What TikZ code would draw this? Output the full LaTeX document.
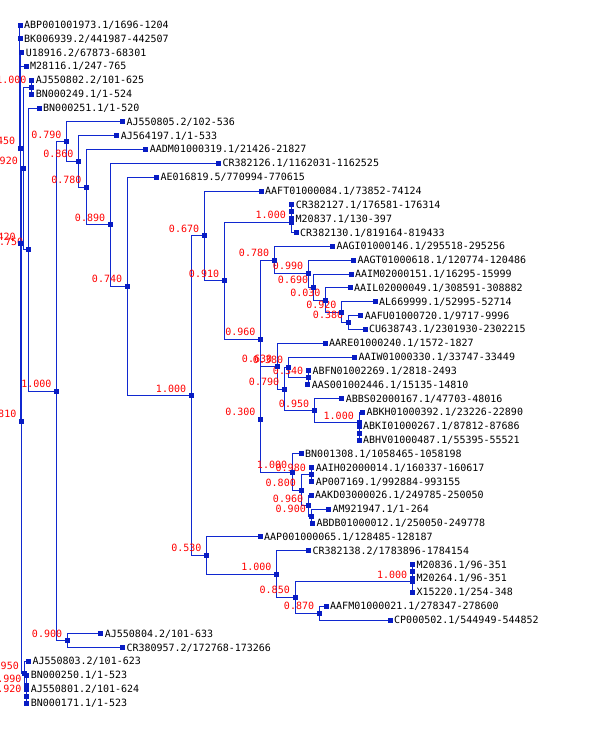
\documentclass[tikz,border=0pt]{standalone}
\usepackage{fontspec}
\setmonofont{DejaVu Sans Mono}
\usetikzlibrary{backgrounds}
\definecolor{blu}{RGB}{16,40,208}
\definecolor{mkc}{RGB}{8,28,196}
\definecolor{bsred}{RGB}{255,0,0}
\tikzset{
  mk/.style={rectangle,fill=mkc,draw=none,minimum size=5pt,inner sep=0pt},
  lbl/.style={anchor=base west,inner sep=0pt,font=\ttfamily\fontsize{10}{10}\selectfont,text=black},
  bs/.style={anchor=base east,inner sep=0pt,font=\ttfamily\fontsize{10}{10}\selectfont,text=bsred},
  br/.style={draw=blu,line width=1pt}
}
\newcommand\leafnode[4]{\node[mk] (#1) at (#2,#3) {};
  \node[lbl] (#1-txt) at ([shift={(4,3.4)}]#1.center) {#4};}
\newcommand\innode[4]{\node[mk] (#1) at (#2,#3) {};
  \node[bs] (#1-sup) at ([shift={(-5,-3.7)}]#1.center) {#4};}
\newcommand\bare[3]{\node[mk] (#1) at (#2,#3) {};}
\begin{document}
\begin{tikzpicture}[x=1pt,y=-1pt]
\useasboundingbox (0,0) rectangle (600,740);
% leaves
\leafnode{L1}{20}{25.0}{ABP001001973.1/1696-1204}
\leafnode{L2}{20}{38.8}{BK006939.2/441987-442507}
\leafnode{L3}{21.7}{52.7}{U18916.2/67873-68301}
\leafnode{L4}{26}{66.5}{M28116.1/247-765}
\leafnode{L5}{31.7}{80.3}{AJ550802.2/101-625}
\leafnode{L6}{31.7}{94.2}{BN000249.1/1-524}
\leafnode{L7}{39}{108}{BN000251.1/1-520}
\leafnode{L8}{122.3}{121.9}{AJ550805.2/102-536}
\leafnode{L9}{116.7}{135.7}{AJ564197.1/1-533}
\leafnode{L10}{145.7}{149.5}{AADM01000319.1/21426-21827}
\leafnode{L11}{218.3}{163.4}{CR382126.1/1162031-1162525}
\leafnode{L12}{156.3}{177.2}{AE016819.5/770994-770615}
\leafnode{L13}{261}{191}{AAFT01000084.1/73852-74124}
\leafnode{L14}{291.7}{204.9}{CR382127.1/176581-176314}
\leafnode{L15}{291.5}{218.7}{M20837.1/130-397}
\leafnode{L16}{296}{232.6}{CR382130.1/819164-819433}
\leafnode{L17}{332.3}{246.4}{AAGI01000146.1/295518-295256}
\leafnode{L18}{353.3}{260.2}{AAGT01000618.1/120774-120486}
\leafnode{L19}{351}{274.1}{AAIM02000151.1/16295-15999}
\leafnode{L20}{350}{287.9}{AAIL02000049.1/308591-308882}
\leafnode{L21}{375}{301.8}{AL669999.1/52995-52714}
\leafnode{L22}{360.7}{315.6}{AAFU01000720.1/9717-9996}
\leafnode{L23}{365}{329.4}{CU638743.1/2301930-2302215}
\leafnode{L24}{325}{343.3}{AARE01000240.1/1572-1827}
\leafnode{L25}{354.3}{357.1}{AAIW01000330.1/33747-33449}
\leafnode{L26}{308.3}{370.9}{ABFN01002269.1/2818-2493}
\leafnode{L27}{307.7}{384.8}{AAS001002446.1/15135-14810}
\leafnode{L28}{341.7}{398.6}{ABBS02000167.1/47703-48016}
\leafnode{L29}{362.3}{412.4}{ABKH01000392.1/23226-22890}
\leafnode{L30}{359}{426.3}{ABKI01000267.1/87812-87686}
\leafnode{L31}{359}{440.1}{ABHV01000487.1/55395-55521}
\leafnode{L32}{301}{453.9}{BN001308.1/1058465-1058198}
\leafnode{L33}{311.7}{467.8}{AAIH02000014.1/160337-160617}
\leafnode{L34}{311.7}{481.6}{AP007169.1/992884-993155}
\leafnode{L35}{311}{495.4}{AAKD03000026.1/249785-250050}
\leafnode{L36}{328.3}{509.3}{AM921947.1/1-264}
\leafnode{L37}{312.3}{523.1}{ABDB01000012.1/250050-249778}
\leafnode{L38}{260}{536.9}{AAP001000065.1/128485-128187}
\leafnode{L39}{308.3}{550.8}{CR382138.2/1783896-1784154}
\leafnode{L40}{412.3}{564.6}{M20836.1/96-351}
\leafnode{L41}{412.3}{578.4}{M20264.1/96-351}
\leafnode{L42}{412.3}{592.3}{X15220.1/254-348}
\leafnode{L43}{326}{606.1}{AAFM01000021.1/278347-278600}
\leafnode{L44}{390}{620}{CP000502.1/544949-544852}
\leafnode{L45}{100.7}{633.8}{AJ550804.2/101-633}
\leafnode{L46}{122.3}{647.6}{CR380957.2/172768-173266}
\leafnode{L47}{28.3}{661.5}{AJ550803.2/101-623}
\leafnode{L48}{26.7}{675.3}{BN000250.1/1-523}
\leafnode{L49}{26.7}{689.1}{AJ550801.2/101-624}
\leafnode{L50}{26.7}{703}{BN000171.1/1-523}
% internal nodes
\bare{nA}{291}{211.8}
\innode{nB}{291}{222.2}{1.000}
\innode{n380}{348.3}{322.5}{0.380}
\innode{n920b}{341.7}{312.15}{0.920}
\innode{n030}{325.7}{300.0}{0.030}
\innode{n690}{313.3}{287.05}{0.690}
\innode{n990b}{308.3}{273.6}{0.990}
\innode{n780b}{274.3}{260.0}{0.780}
\innode{n340}{308.3}{377.85}{0.340}
\innode{nx80}{288.3}{367.5}{0.380}
\bare{nX}{359}{433.2}
\innode{n1000f}{359}{422.8}{1.000}
\innode{n950b}{314.3}{410.7}{0.950}
\innode{n790b}{284.3}{389.1}{0.790}
\innode{n630}{277.3}{366.2}{0.630}
\innode{n980}{311}{474.7}{0.980}
\innode{n900b}{311}{516.2}{0.900}
\innode{n960b}{308.3}{505.8}{0.960}
\innode{n800}{301}{490.25}{0.800}
\innode{n1000e}{292.3}{472.1}{1.000}
\innode{n300}{260.7}{419.15}{0.300}
\innode{n960}{260.7}{339.6}{0.960}
\innode{n910}{224.3}{280.9}{0.910}
\innode{n670}{204.3}{235.95}{0.670}
\bare{nM}{412.3}{571.5}
\innode{n1000h}{412.3}{581.9}{1.000}
\innode{n870}{319.3}{613.05}{0.870}
\innode{n850}{295}{597.5}{0.850}
\innode{n1000g}{276.7}{574.15}{1.000}
\innode{n530}{206.7}{555.5}{0.530}
\innode{n1000c}{191.3}{395.7}{1.000}
\innode{n740}{127.3}{286.45}{0.740}
\innode{n890}{110.3}{224.9}{0.890}
\innode{n780a}{86.7}{187.2}{0.780}
\innode{n860}{78.7}{161.45}{0.860}
\innode{n790}{66.7}{141.7}{0.790}
\innode{n900}{67.3}{640.7}{0.900}
\innode{n1000b}{56.7}{391.2}{1.000}
\innode{n750}{28.3}{249.6}{0.750}
\innode{n1000a}{31.7}{87.25}{1.000}
\innode{n920}{23}{168.4}{0.920}
\innode{n920c}{26.7}{696}{0.920}
\innode{n990}{26.7}{685.7}{0.990}
\innode{n950}{24}{673.6}{0.950}
\innode{n810}{21.5}{421}{0.810}
\innode{n420}{20.8}{243.75}{0.420}
\innode{n450}{20.3}{148.2}{0.450}
\coordinate (root) at (19.5,86.6);
\begin{scope}[on background layer]
\fill[white] (0,0) rectangle (600,740);
\foreach \pa/\ch in {root/L1,root/L2,root/n450,
  n450/L3,n450/n420,n420/L4,n420/n810,n810/n920,n810/n950,
  n920/n1000a,n920/n750,n1000a/L5,n1000a/L6,n750/L7,n750/n1000b,
  n1000b/n790,n1000b/n900,n900/L45,n900/L46,
  n790/L8,n790/n860,n860/L9,n860/n780a,n780a/L10,n780a/n890,
  n890/L11,n890/n740,n740/L12,n740/n1000c,n1000c/n670,n1000c/n530,
  n670/L13,n670/n910,n910/nB,n910/n960,nB/nA,nB/L16,nA/L14,nA/L15,
  n960/n780b,n960/n300,n780b/L17,n780b/n990b,n990b/L18,n990b/n690,
  n690/L19,n690/n030,n030/L20,n030/n920b,n920b/L21,n920b/n380,
  n380/L22,n380/L23,
  n300/n630,n300/n1000e,n630/L24,n630/n790b,n790b/nx80,n790b/n950b,
  nx80/L25,nx80/n340,n340/L26,n340/L27,n950b/L28,n950b/n1000f,
  n1000f/L29,n1000f/nX,nX/L30,nX/L31,
  n1000e/L32,n1000e/n800,n800/n980,n800/n960b,n980/L33,n980/L34,
  n960b/L35,n960b/n900b,n900b/L36,n900b/L37,
  n530/L38,n530/n1000g,n1000g/L39,n1000g/n850,n850/n1000h,n850/n870,
  n1000h/nM,n1000h/L42,nM/L40,nM/L41,n870/L43,n870/L44,
  n950/L47,n950/n990,n990/L48,n990/n920c,n920c/L49,n920c/L50}
  {\draw[br] (\pa.center) |- (\ch.center);}
\end{scope}
\end{tikzpicture}
\end{document}
